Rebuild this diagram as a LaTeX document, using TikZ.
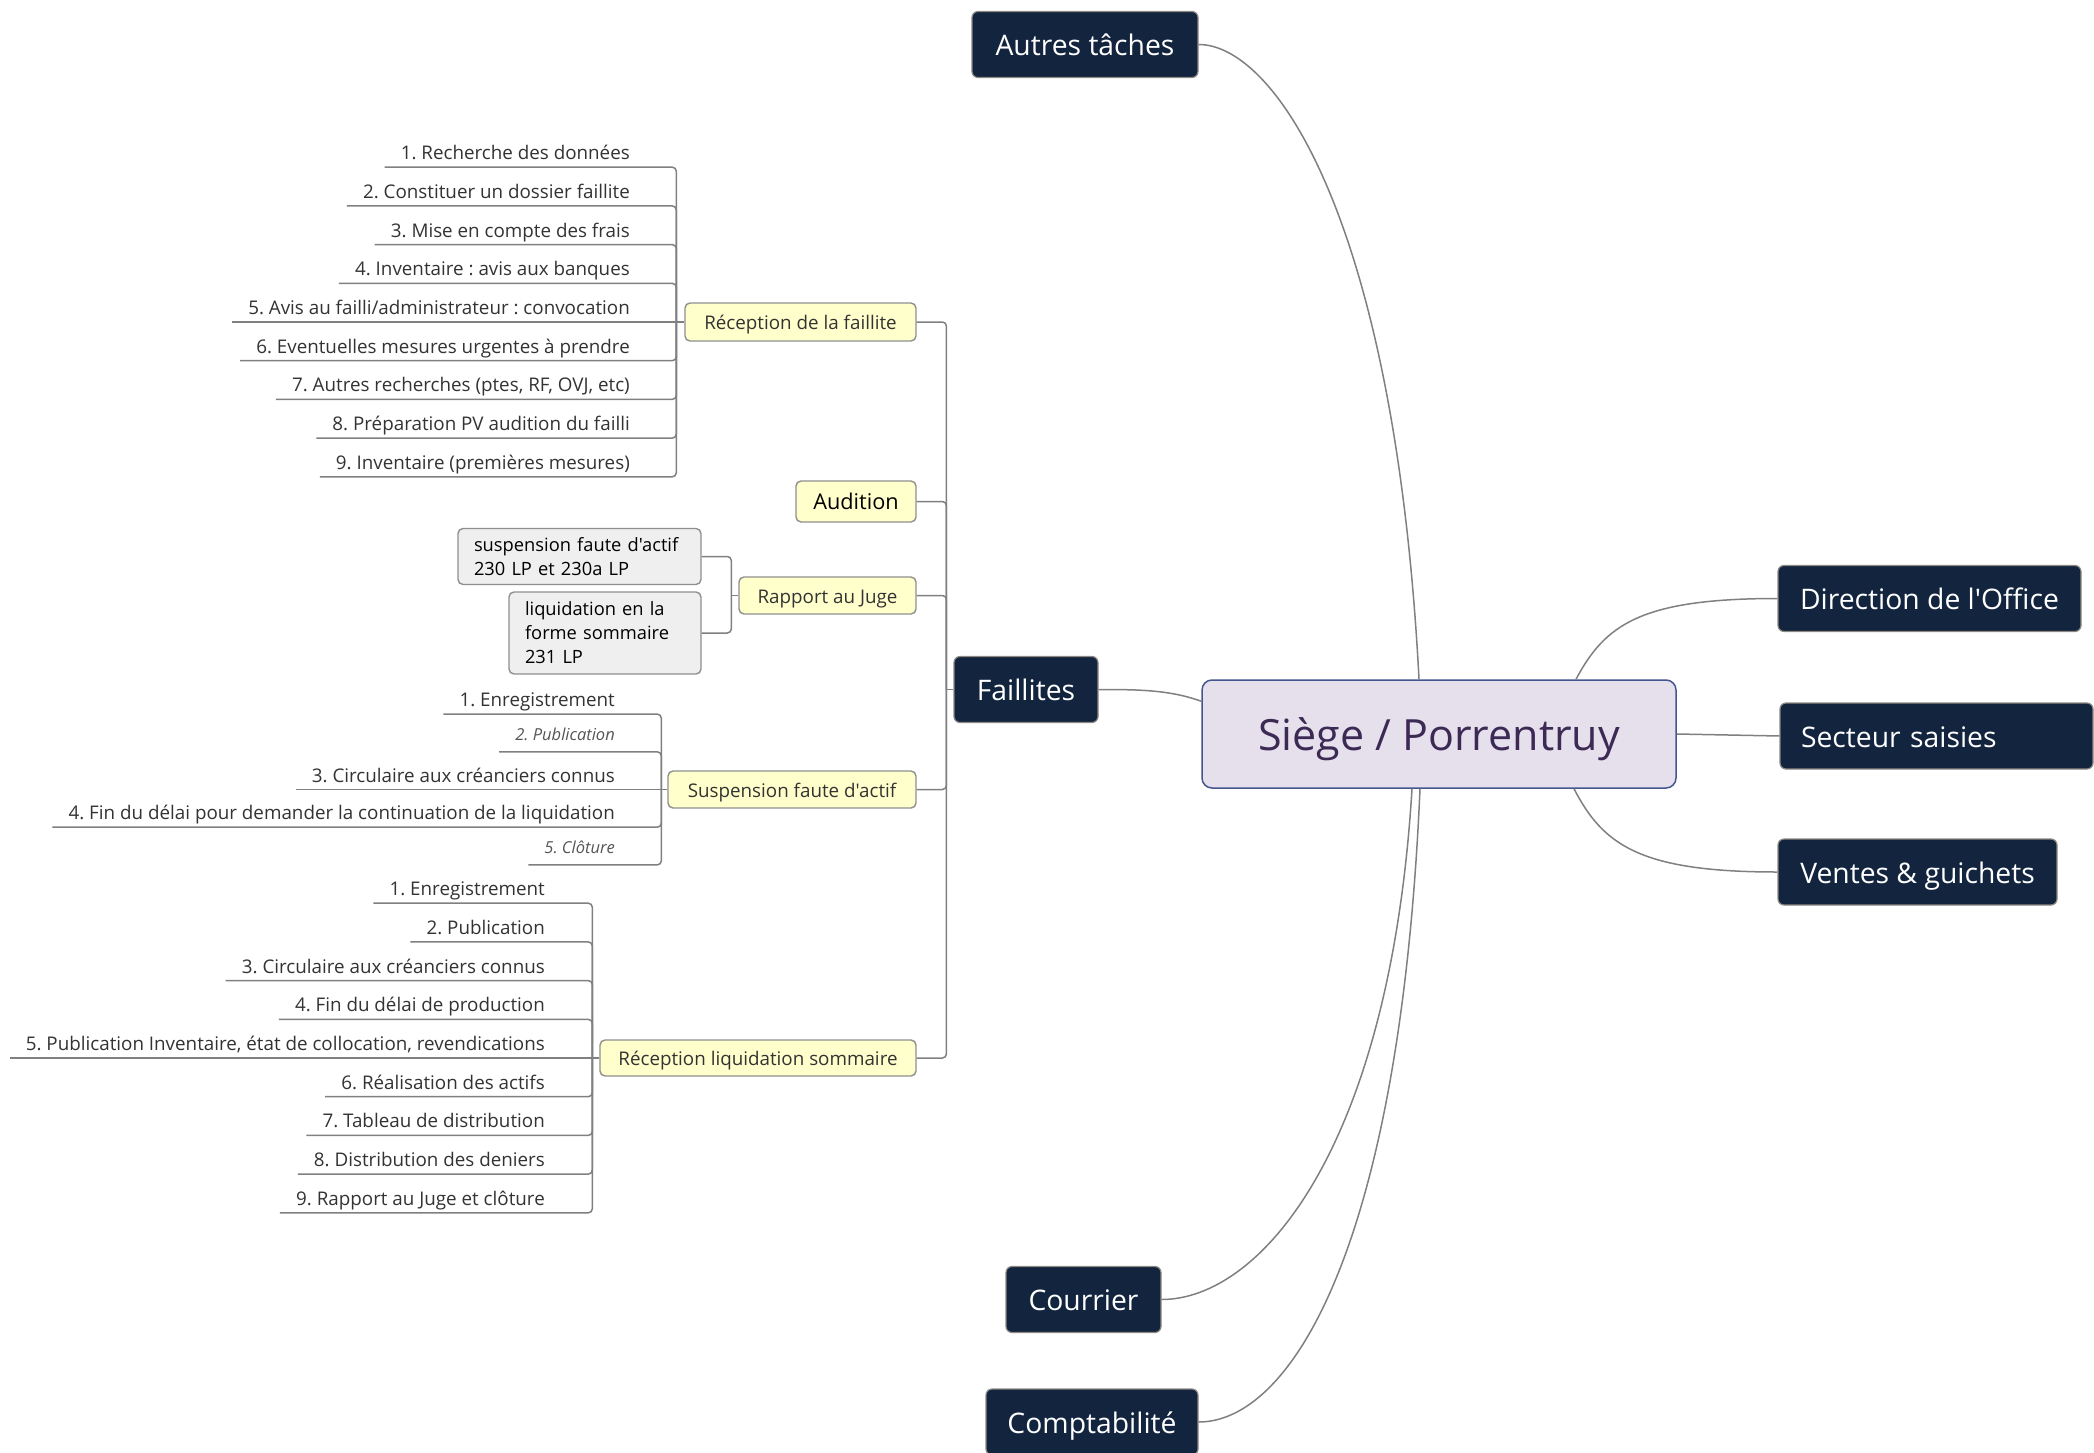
\documentclass[tikz,border=0pt]{standalone}
\usepackage{fontspec}
\setmainfont{Open Sans}[Ligatures=TeXOff]
\usetikzlibrary{calc}
\definecolor{navyc}{HTML}{13243E}
\definecolor{navyb}{HTML}{8C8984}
\definecolor{yelc}{HTML}{FFFFCC}
\definecolor{boxb}{HTML}{8F8F8F}
\definecolor{grayc}{HTML}{EFEFEF}
\definecolor{cenf}{HTML}{E5E0EC}
\definecolor{cenb}{HTML}{45568F}
\definecolor{cent}{HTML}{3C2A55}
\definecolor{itemc}{HTML}{333333}
\definecolor{itali}{HTML}{555555}
\definecolor{linec}{HTML}{808080}
\frenchspacing
\begin{document}
\begin{tikzpicture}[x=1pt,y=-1pt,
  navy/.style={draw=navyb, fill=navyc, text=white, rounded corners=6pt, line width=1.2pt,
    font=\fontsize{28.3}{32}\selectfont, minimum height=66pt, inner sep=0pt, text height=22pt, text depth=0pt},
  yel/.style={draw=boxb, fill=yelc, text=itemc, rounded corners=5pt, line width=1.4pt,
    font=\fontsize{18.8}{22}\selectfont, inner sep=0pt, text height=15pt, text depth=0pt},
  grayb/.style={draw=boxb, fill=grayc, text=black, rounded corners=5pt, line width=1.4pt,
    font=\fontsize{18.3}{24}\selectfont, inner xsep=16pt, inner ysep=0pt, align=left},
  item/.style={font=\fontsize{18.8}{22}\selectfont, text=itemc, inner xsep=16pt, inner ysep=6pt,
    text height=14pt, text depth=1.3pt, anchor=south east},
  itemi/.style={item, font=\itshape\fontsize{16.5}{19}\selectfont, text=itali, text depth=5.3pt},
  conn/.style={draw=linec, line width=1.5pt},
  tree/.style={conn, rounded corners=4pt}]
\useasboundingbox (0,0) rectangle (2094,1453);
\fill[white] (0,0) rectangle (2094,1453);

% central
\node[draw=cenb, fill=cenf, text=cent, rounded corners=10pt, line width=1.5pt,
  minimum width=474pt, minimum height=108pt, inner sep=0pt, text height=32pt, text depth=0pt,
  font=\fontsize{43}{48}\selectfont] (C) at (1439,734) {Siège / Porrentruy};

% main branches
\node[navy, minimum width=226pt] (AT) at (1085,44.5) {Autres tâches};
\node[navy, minimum width=303pt] (DO) at (1929.5,598.5) {Direction de l'Office};
\node[navy, inner xsep=21pt, text width=271pt, align=left] (SS) at (1936.5,736) {Secteur saisies};
\node[navy, minimum width=279pt] (VG) at (1917.5,872) {Ventes \& guichets};
\node[navy, minimum width=144pt] (FA) at (1026,689.5) {Faillites};
\node[navy, minimum width=155pt] (CO) at (1083.5,1299.5) {Courrier};
\node[navy, minimum width=212pt] (CP) at (1092,1422) {Comptabilité};

% central connectors
\draw[conn] ([xshift=-20pt]C.north) .. controls (1395,220) and (1275,44.5) .. (AT.east);
\draw[conn] ([xshift=137pt]C.north) .. controls (1605,625) and (1640,598.5) .. (DO.west);
\draw[conn] (C.east) -- (SS.west);
\draw[conn] ([xshift=135pt]C.south) .. controls (1603,845) and (1640,872) .. (VG.west);
\draw[conn] ([yshift=-22pt]C.north west) .. controls (1170,690) and (1140,689.5) .. (FA.east);
\draw[conn] ([xshift=-27pt]C.south) .. controls (1390,1150) and (1260,1299.5) .. (CO.east);
\draw[conn] ([xshift=-19pt]C.south) .. controls (1400,1250) and (1290,1422) .. (CP.east);

% Faillites children
\node[yel, minimum width=231pt, minimum height=38pt] (RF) at (800.5,322) {Réception de la faillite};
\node[yel, minimum width=120pt, minimum height=41pt, font=\fontsize{21.7}{25}\selectfont, text=black] (AU) at (856,501.5) {Audition};
\node[yel, minimum width=177pt, minimum height=37pt] (RJ) at (827.5,595.5) {Rapport au Juge};
\node[yel, minimum width=248pt, minimum height=37pt] (SF) at (792,789.5) {Suspension faute d'actif};
\node[yel, minimum width=316pt, minimum height=36pt] (RL) at (758,1058) {Réception liquidation sommaire};

\coordinate (FAt) at ($(FA.west)+(-7,0)$);
\draw[tree] (FA.west) -- (FAt);
\foreach \n in {RF,AU,RJ,SF,RL} \draw[tree] (FAt) |- (\n.east);

% Rapport au Juge children
\node[grayb, text width=211pt, minimum height=56pt] (G1) at (579.5,556.5)
  {\mbox{suspension faute d'actif}\\\mbox{230 LP et 230a LP}};
\node[grayb, text width=160pt, minimum height=82pt] (G2) at (605,633)
  {\mbox{liquidation en la}\\\mbox{forme sommaire}\\\mbox{231 LP}};
\coordinate (RJt) at ($(RJ.west)+(-7,0)$);
\draw[tree] (RJ.west) -- (RJt);
\draw[tree] (RJt) |- (G1.east);
\draw[tree] (RJt) |- (G2.east);

% Reception de la faillite items
\foreach \t [count=\i] in {{1. Recherche des données},{2. Constituer un dossier faillite},
  {3. Mise en compte des frais},{4. Inventaire : avis aux banques},
  {5. Avis au failli/administrateur : convocation},{6. Eventuelles mesures urgentes à prendre},
  {7. Autres recherches (ptes, RF, OVJ, etc)},{8. Préparation PV audition du failli},
  {9. Inventaire (premières mesures)}}
  \node[item] (rf\i) at (646,{322+38.7*(\i-5)}) {\t};
\coordinate (RFt) at ($(RF.west)+(-8,0)$);
\draw[tree] (RF.west) -- (rf5.south west);
\foreach \i in {1,2,3,4,6,7,8,9} \draw[tree] (RFt) |- (rf\i.south west);

% Suspension faute d'actif items
\node[item] (sf1) at (631,714.1) {1. Enregistrement};
\node[itemi] (sf2) at (631,751.8) {2. Publication};
\node[item] (sf3) at (631,789.5) {3. Circulaire aux créanciers connus};
\node[item] (sf4) at (631,827.2) {4. Fin du délai pour demander la continuation de la liquidation};
\node[itemi] (sf5) at (631,864.9) {5. Clôture};
\coordinate (SFt) at ($(SF.west)+(-6,0)$);
\draw[tree] (SF.west) -- (sf3.south west);
\foreach \i in {1,2,4,5} \draw[tree] (SFt) |- (sf\i.south west);

% Reception liquidation sommaire items
\foreach \t [count=\i] in {{1. Enregistrement},{2. Publication},
  {3. Circulaire aux créanciers connus},{4. Fin du délai de production},
  {5. Publication Inventaire, état de collocation, revendications},{6. Réalisation des actifs},
  {7. Tableau de distribution},{8. Distribution des deniers},{9. Rapport au Juge et clôture}}
  \node[item] (rl\i) at (561,{1058+38.7*(\i-5)}) {\t};
\coordinate (RLt) at ($(RL.west)+(-7,0)$);
\draw[tree] (RL.west) -- (rl5.south west);
\foreach \i in {1,2,3,4,6,7,8,9} \draw[tree] (RLt) |- (rl\i.south west);
\end{tikzpicture}
\end{document}
